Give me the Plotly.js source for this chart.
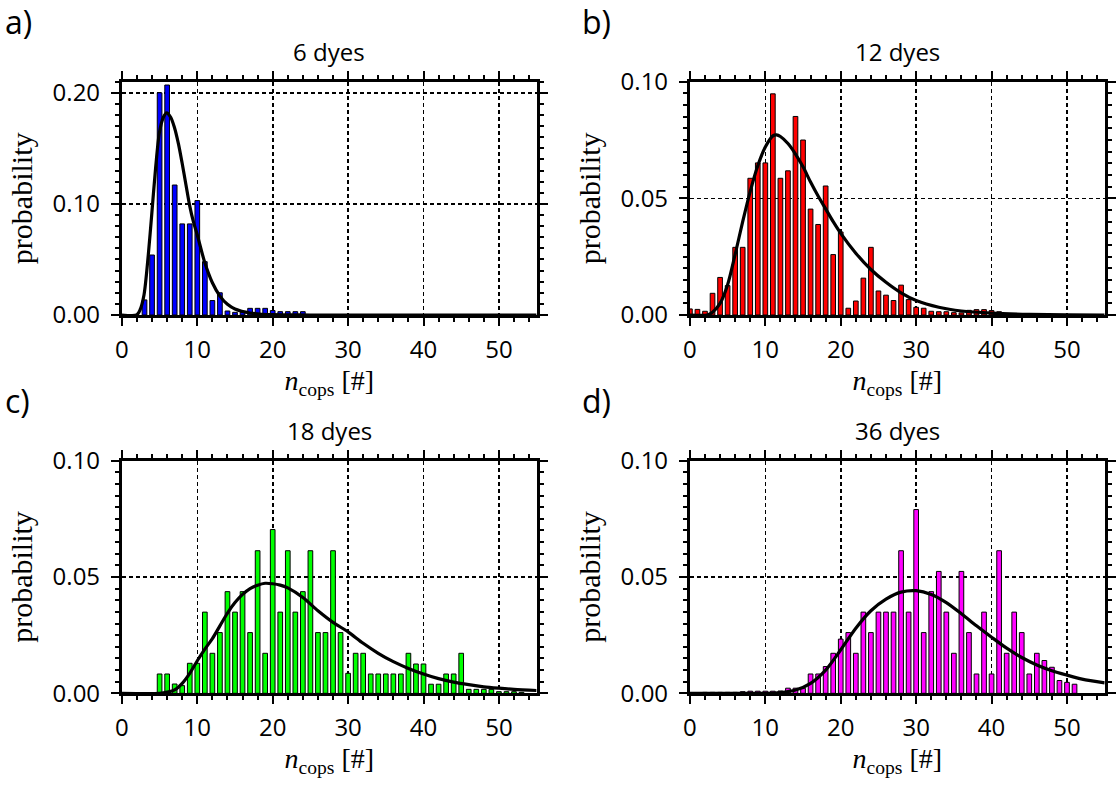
<!DOCTYPE html>
<html>
<head>
<meta charset="utf-8">
<script src="https://cdn.plot.ly/plotly-3.0.1.min.js"></script>
<style>html,body{margin:0;padding:0;background:#fff;}#chart{width:1120px;height:785px;}</style>
</head>
<body>
<div id="chart"></div>
<script>
// ---------- DATA ----------
const panelTitles = ["6 dyes", "12 dyes", "18 dyes", "36 dyes"];
const panelLetters = ["a)", "b)", "c)", "d)"];

// panel a (6 dyes)
const barsA_x = [3,4,5,6,7,8,9,10,11,12,13,14,15,16,17,18,19,20,21,22,23,24];
const barsA_y = [0.0136,0.054,0.200,0.207,0.117,0.082,0.082,0.103,0.048,0.013,0.020,0.0036,0.0024,0.0024,0.006,0.006,0.006,0.004,0.003,0.003,0.003,0.003];
const fitA_x = [0,1.96,2.4,2.93,3.5,3.95,4.48,4.97,5.5,5.94,6.47,6.96,7.5,7.98,8.5,9.0,9.48,10,11,12,13,14,15,17,20,25,55];
const fitA_y = [0,0,0.0045,0.018,0.054,0.090,0.133,0.164,0.178,0.182,0.178,0.169,0.154,0.137,0.117,0.098,0.084,0.072,0.047,0.029,0.017,0.0096,0.0054,0.0018,0.0003,0,0];

// panel b (12 dyes)
const barsB_x = [0,1,2,3,4,5,6,7,8,9,10,11,12,13,14,15,16,17,18,19,20,21,22,23,24,25,26,27,28,29,30,31,32,33,34,35,36,37,38,39,40,41];
const barsB_y = [0.0026,0.0024,0.0016,0.0093,0.0161,0.0126,0.029,0.029,0.0586,0.0652,0.0652,0.0948,0.0586,0.0618,0.0851,0.075,0.0454,0.0388,0.0553,0.0259,0.0356,0.0029,0.006,0.0158,0.029,0.0103,0.0085,0.0062,0.0128,0.0066,0.0033,0.0029,0.0016,0.0014,0.0014,0.001,0.0009,0.002,0.0023,0.0023,0.0019,0.0014];
const fitB_x = [0,2.3,3,4,5,6,7,8,9,10,11,11.5,12,13,14,15,16,17,18,19,20,22,24,26,28,30,33,36,40,45,50,55];
const fitB_y = [0,0,0.0012,0.005,0.013,0.026,0.040,0.053,0.064,0.072,0.0768,0.0772,0.0765,0.0735,0.069,0.0635,0.057,0.051,0.0455,0.040,0.035,0.0265,0.0195,0.014,0.0095,0.0062,0.0033,0.0017,0.0008,0.0003,0.0001,0];

// panel c (18 dyes)
const barsC_x = [5,6,7,8,9,10,11,12,13,14,15,16,17,18,19,20,21,22,23,24,25,26,27,28,29,30,31,32,33,34,35,36,37,38,39,40,41,42,43,44,45,46,47,48,49,50,51,52,53];
const barsC_y = [0.0083,0.0083,0.004,0.0033,0.0129,0.0129,0.0349,0.0172,0.0261,0.0437,0.0349,0.0437,0.0261,0.0613,0.0172,0.0704,0.0349,0.0613,0.0349,0.0437,0.0613,0.0261,0.0261,0.0613,0.0261,0.0086,0.0172,0.0172,0.0083,0.0083,0.0083,0.0083,0.0083,0.0172,0.0126,0.0126,0.0039,0.0039,0.0083,0.0083,0.0172,0.0017,0.0017,0.0017,0.0017,0.0007,0.0007,0.0007,0.0004];
const fitC_x = [0,5,6,7,8,9,10,11,12,13,14,15,16,17,18,19,20,21,22,24,26,28,30,32,34,36,38,40,42,44,46,48,50,52,55];
const fitC_y = [0,0,0.0005,0.0015,0.0043,0.0086,0.014,0.019,0.0235,0.029,0.0345,0.039,0.0425,0.045,0.0465,0.0473,0.0471,0.0465,0.0453,0.0412,0.0355,0.0305,0.0264,0.0215,0.0172,0.0136,0.0107,0.0083,0.0063,0.0048,0.0037,0.0028,0.0022,0.0017,0.0012];

// panel d (36 dyes)
const barsD_x = [2,3,4,5,6,7,8,9,10,11,12,13,14,15,16,17,18,19,20,21,22,23,24,25,26,27,28,29,30,31,32,33,34,35,36,37,38,39,40,41,42,43,44,45,46,47,48,49,50,51];
const barsD_y = [0.0004,0.0004,0.0004,0.0004,0.0004,0.0007,0.0009,0.0009,0.0009,0.0009,0.001,0.0022,0.0022,0.0022,0.0083,0.0083,0.0115,0.0172,0.0233,0.0261,0.0172,0.0349,0.0261,0.0349,0.0349,0.0349,0.0613,0.0349,0.079,0.0261,0.0437,0.0524,0.0349,0.0172,0.0524,0.0261,0.0083,0.0349,0.0083,0.0613,0.0172,0.0349,0.0261,0.0083,0.0172,0.0141,0.0112,0.0055,0.0047,0.0039];
const fitD_x = [0,10,12,14,16,18,20,22,24,26,28,30,32,34,36,38,40,42,44,46,48,50,52,55];
const fitD_y = [0,0,0.0003,0.0014,0.0043,0.010,0.0187,0.028,0.0355,0.0405,0.0435,0.0441,0.0425,0.039,0.0342,0.029,0.0241,0.0194,0.0154,0.0122,0.0097,0.0078,0.0061,0.0045];

const xTickVals = [0,10,20,30,40,50];
const xTickText = ["0","10","20","30","40","50"];

// ---------- STYLE / LAYOUT ----------
const W = 1120, H = 785;
const colors = ["#0000ff", "#ff0000", "#00ff00", "#ff00ff"];
const bars = [[barsA_x,barsA_y],[barsB_x,barsB_y],[barsC_x,barsC_y],[barsD_x,barsD_y]];
const fits = [[fitA_x,fitA_y],[fitB_x,fitB_y],[fitC_x,fitC_y],[fitD_x,fitD_y]];

// pixel boxes of the four plot areas [left, right, top, bottom]
const boxes = [
  [121.9, 536.6, 81.7, 315.0],
  [689.9, 1104.7, 81.7, 315.0],
  [121.9, 536.6, 460.7, 693.3],
  [689.9, 1104.7, 460.7, 693.3]
];
const yRanges = [[0,0.21],[0,0.1],[0,0.1],[0,0.1]];
const yDticks = [0.1,0.05,0.05,0.05];
const yMinor = [0.01,0.005,0.005,0.005];

const sans = "Open Sans, Noto Sans, sans-serif";
const serif = "Liberation Serif, DejaVu Serif, serif";

const traces = [];
const layout = {
  width: W, height: H,
  margin: {l:0, r:0, t:0, b:0},
  paper_bgcolor: "#fff", plot_bgcolor: "rgba(0,0,0,0)",
  showlegend: false,
  bargap: 0,
  annotations: []
};

for (let i = 0; i < 4; i++) {
  const n = i + 1;
  const xs = n === 1 ? "" : String(n);
  const [L, R, T, B] = boxes[i];
  const xd = [L / W, R / W];
  const yd = [1 - B / H, 1 - T / H];

  traces.push({
    type: "bar", x: bars[i][0], y: bars[i][1], width: 0.62,
    marker: {color: colors[i], line: {color: "#000", width: 1}},
    xaxis: "x" + xs, yaxis: "y" + xs, hoverinfo: "x+y"
  });
  traces.push({
    type: "scatter", mode: "lines", x: fits[i][0], y: fits[i][1],
    line: {color: "#000", width: 3.2, shape: "spline", smoothing: 0.8},
    xaxis: "x" + xs, yaxis: "y" + xs, cliponaxis: true
  });

  const common = {
    showline: true, linewidth: 3, linecolor: "#000", mirror: "ticks",
    ticks: "outside", ticklen: 8, tickwidth: 2, tickcolor: "#000",
    showgrid: true, gridcolor: "#000", gridwidth: 1.6, griddash: "4px,3px",
    zeroline: false, fixedrange: true,
    tickfont: {family: sans, size: 24, color: "#000"}
  };

  layout["xaxis" + xs] = Object.assign({}, common, {
    domain: xd, anchor: "y" + xs, range: [0, 55],
    tickmode: "array", tickvals: xTickVals, ticktext: xTickText,
    ticklabelstandoff: 3,
    minor: {tickmode: "linear", tick0: 0, dtick: 2, ticks: "outside", ticklen: 4, tickwidth: 2, tickcolor: "#000", showgrid: false},
    title: {text: "<i>n</i><sub>cops</sub> [#]", font: {family: serif, size: 28, color: "#000"}, standoff: 0}
  });
  layout["yaxis" + xs] = Object.assign({}, common, {
    domain: yd, anchor: "x" + xs, range: yRanges[i],
    tickmode: "linear", tick0: 0, dtick: yDticks[i], tickformat: ".2f",
    ticklabelstandoff: 6,
    minor: {tickmode: "linear", tick0: 0, dtick: yMinor[i], ticks: "outside", ticklen: 4, tickwidth: 2, tickcolor: "#000", showgrid: false},
    title: {text: "probability", font: {family: serif, size: 30, color: "#000"}, standoff: 12}
  });

  // overlay axes: inner halves of the major ticks
  const on = String(n + 4);
  layout["xaxis" + on] = {
    overlaying: "x" + xs, anchor: "y" + on, range: [0, 55], domain: xd,
    tickmode: "array", tickvals: xTickVals, ticks: "inside", ticklen: 5, tickwidth: 2, tickcolor: "#000",
    showline: true, linewidth: 3, linecolor: "#000", mirror: "ticks",
    showticklabels: false, showgrid: false, zeroline: false, fixedrange: true
  };
  layout["yaxis" + on] = {
    overlaying: "y" + xs, anchor: "x" + on, range: yRanges[i], domain: yd,
    tickmode: "linear", tick0: 0, dtick: yDticks[i], ticks: "inside", ticklen: 5, tickwidth: 2, tickcolor: "#000",
    showline: true, linewidth: 3, linecolor: "#000", mirror: "ticks",
    showticklabels: false, showgrid: false, zeroline: false, fixedrange: true
  };

  // panel title
  layout.annotations.push({
    text: panelTitles[i], xref: "paper", yref: "paper",
    x: (L + R) / 2 / W, y: 1 - (T - 30) / H, xanchor: "center", yanchor: "middle",
    showarrow: false, font: {family: sans, size: 24, color: "#000"}
  });
  // panel letter
  layout.annotations.push({
    text: panelLetters[i], xref: "paper", yref: "paper",
    x: (i % 2 === 0 ? 3 : 580) / W, y: 1 - (i < 2 ? 22 : 400) / H,
    xanchor: "left", yanchor: "middle",
    showarrow: false, font: {family: sans, size: 32, color: "#000"}
  });
}

Plotly.newPlot("chart", traces, layout, {displayModeBar: false, staticPlot: true});
</script>
</body>
</html>
